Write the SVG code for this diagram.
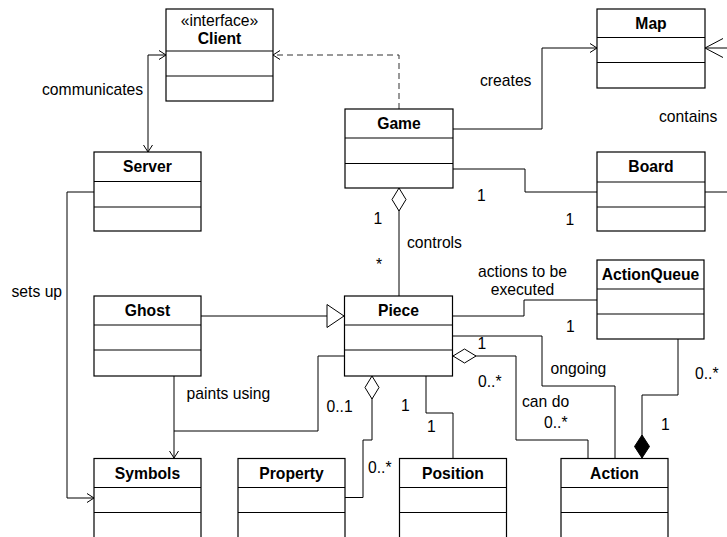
<svg xmlns="http://www.w3.org/2000/svg" width="727" height="537" viewBox="0 0 727 537">
<style>
.box{fill:#fff;stroke:#000;stroke-width:1.2}
.div{stroke:#000;stroke-width:1.2}
.name{font-family:"Liberation Sans",Arial,sans-serif;font-size:15.7px;font-weight:bold;text-anchor:middle;fill:#000}
.stereo{font-family:"Liberation Sans",Arial,sans-serif;font-size:15.7px;text-anchor:middle;fill:#000}
.lbl{font-family:"Liberation Sans",Arial,sans-serif;font-size:15.7px;fill:#000}
.ln{fill:none;stroke:#000;stroke-width:1}
.dash{fill:none;stroke:#333;stroke-width:1;stroke-dasharray:6,4}
</style>
<defs>
<marker id="open" markerUnits="userSpaceOnUse" markerWidth="20" markerHeight="20" viewBox="-10 -10 20 20" refX="0" refY="0" orient="auto">
<path d="M-7,-4.5 L0,0 L-7,4.5" fill="none" stroke="#000" stroke-width="1"/>
</marker>
<marker id="openStart" markerUnits="userSpaceOnUse" markerWidth="20" markerHeight="20" viewBox="-10 -10 20 20" refX="0" refY="0" orient="auto">
<path d="M7,-4.5 L0,0 L7,4.5" fill="none" stroke="#000" stroke-width="1"/>
</marker>
<marker id="bigopen" markerUnits="userSpaceOnUse" markerWidth="44" markerHeight="44" viewBox="-22 -22 44 44" refX="0" refY="0" orient="auto">
<path d="M-18,-9.5 L0,0 L-18,9.5" fill="none" stroke="#000" stroke-width="1"/>
</marker>
<marker id="tri" markerUnits="userSpaceOnUse" markerWidth="40" markerHeight="40" viewBox="-20 -20 40 40" refX="0" refY="0" orient="auto">
<path d="M0,0 L-17,-11.5 L-17,11.5 Z" fill="#fff" stroke="#000" stroke-width="1"/>
</marker>
<marker id="agg" markerUnits="userSpaceOnUse" markerWidth="50" markerHeight="50" viewBox="-25 -25 50 50" refX="0" refY="0" orient="auto">
<path d="M0,0 L11.5,-7 L23,0 L11.5,7 Z" fill="#fff" stroke="#000" stroke-width="1"/>
</marker>
<marker id="comp" markerUnits="userSpaceOnUse" markerWidth="50" markerHeight="50" viewBox="-25 -25 50 50" refX="0" refY="0" orient="auto">
<path d="M0,0 L11.5,-7.5 L23,0 L11.5,7.5 Z" fill="#000" stroke="#000" stroke-width="1"/>
</marker>
</defs>

<g id="connectors">
<polyline class="ln" points="148,152 148,55 166,55" marker-start="url(#openStart)" marker-end="url(#open)"/>
<polyline class="dash" points="399,109 399,55 273,55" marker-end="url(#open)"/>
<polyline class="ln" points="453,129 542,129 542,48 597,48" marker-end="url(#open)"/>
<polyline class="ln" points="727,48 705,48" marker-end="url(#bigopen)"/>
<polyline class="ln" points="453,169 525,169 525,192 597,192"/>
<polyline class="ln" points="705,192 727,192"/>
<polyline class="ln" points="399,188 399,296" marker-start="url(#agg)"/>
<polyline class="ln" points="201,316 344,316" marker-end="url(#tri)"/>
<polyline class="ln" points="174,376 174,458" marker-end="url(#open)"/>
<polyline class="ln" points="344,356 318,356 318,431 174,431"/>
<polyline class="ln" points="94,192 67,192 67,498 94,498" marker-end="url(#open)"/>
<polyline class="ln" points="453,316 524,316 524,300 597,300"/>
<polyline class="ln" points="453,336 542,336 542,386 615,386 615,458"/>
<polyline class="ln" points="453,356 516,356 516,440 588,440 588,458" marker-start="url(#agg)"/>
<polyline class="ln" points="372,376 372,440 363,440 363,497.5 345,497.5" marker-start="url(#agg)"/>
<polyline class="ln" points="426,376 426,413 453,413 453,458"/>
<polyline class="ln" points="642,458 642,395 678,395 678,339" marker-start="url(#comp)"/>
</g>

<g id="labels">
<text class="lbl" x="42" y="95">communicates</text>
<text class="lbl" x="480" y="85.5">creates</text>
<text class="lbl" x="659" y="121.5">contains</text>
<text class="lbl" x="477" y="201">1</text>
<text class="lbl" x="565.5" y="225">1</text>
<text class="lbl" x="373.5" y="224">1</text>
<text class="lbl" x="407" y="248">controls</text>
<text class="lbl" x="376" y="269.5">*</text>
<text class="lbl" x="11.5" y="297">sets up</text>
<text class="lbl" x="186.5" y="399">paints using</text>
<text class="lbl" x="326.5" y="412">0..1</text>
<text class="lbl" x="522.5" y="276.5" text-anchor="middle">actions to be</text>
<text class="lbl" x="522.5" y="295" text-anchor="middle">executed</text>
<text class="lbl" x="566" y="331.5">1</text>
<text class="lbl" x="477.5" y="349">1</text>
<text class="lbl" x="550.5" y="374">ongoing</text>
<text class="lbl" x="478" y="386.5">0..*</text>
<text class="lbl" x="522" y="406.5">can do</text>
<text class="lbl" x="544" y="427.5">0..*</text>
<text class="lbl" x="401" y="411">1</text>
<text class="lbl" x="427" y="431.5">1</text>
<text class="lbl" x="368" y="473">0..*</text>
<text class="lbl" x="661" y="430">1</text>
<text class="lbl" x="695" y="379">0..*</text>
</g>

<g id="Client">
<rect class="box" x="166" y="9" width="107" height="92"/>
<line class="div" x1="166" y1="51" x2="273" y2="51"/>
<line class="div" x1="166" y1="76" x2="273" y2="76"/>
<text class="stereo" x="219.5" y="26">«interface»</text>
<text class="name" x="219.5" y="44.3">Client</text>
</g>
<g id="Server">
<rect class="box" x="94" y="152" width="107" height="79"/>
<line class="div" x1="94" y1="181.5" x2="201" y2="181.5"/>
<line class="div" x1="94" y1="207" x2="201" y2="207"/>
<text class="name" x="147.5" y="172.3">Server</text>
</g>
<g id="Game">
<rect class="box" x="345" y="109" width="108" height="79"/>
<line class="div" x1="345" y1="138" x2="453" y2="138"/>
<line class="div" x1="345" y1="163.5" x2="453" y2="163.5"/>
<text class="name" x="399" y="129">Game</text>
</g>
<g id="Map">
<rect class="box" x="597" y="9" width="108" height="79"/>
<line class="div" x1="597" y1="37.5" x2="705" y2="37.5"/>
<line class="div" x1="597" y1="62.5" x2="705" y2="62.5"/>
<text class="name" x="651" y="29">Map</text>
</g>
<g id="Board">
<rect class="box" x="597" y="152" width="108" height="79"/>
<line class="div" x1="597" y1="182" x2="705" y2="182"/>
<line class="div" x1="597" y1="207" x2="705" y2="207"/>
<text class="name" x="651" y="172.3">Board</text>
</g>
<g id="Ghost">
<rect class="box" x="94" y="296" width="107" height="80"/>
<line class="div" x1="94" y1="325" x2="201" y2="325"/>
<line class="div" x1="94" y1="350" x2="201" y2="350"/>
<text class="name" x="147.5" y="316">Ghost</text>
</g>
<g id="Piece">
<rect class="box" x="344.5" y="296" width="108" height="80"/>
<line class="div" x1="344.5" y1="325" x2="452.5" y2="325"/>
<line class="div" x1="344.5" y1="350" x2="452.5" y2="350"/>
<text class="name" x="398.5" y="316">Piece</text>
</g>
<g id="ActionQueue">
<rect class="box" x="597" y="260" width="107" height="79"/>
<line class="div" x1="597" y1="289" x2="704" y2="289"/>
<line class="div" x1="597" y1="314" x2="704" y2="314"/>
<text class="name" x="650.5" y="280">ActionQueue</text>
</g>
<g id="Symbols">
<rect class="box" x="94" y="458.5" width="107" height="80"/>
<line class="div" x1="94" y1="487.5" x2="201" y2="487.5"/>
<line class="div" x1="94" y1="512.5" x2="201" y2="512.5"/>
<text class="name" x="147.5" y="478.5">Symbols</text>
</g>
<g id="Property">
<rect class="box" x="238" y="458.5" width="107" height="80"/>
<line class="div" x1="238" y1="487.5" x2="345" y2="487.5"/>
<line class="div" x1="238" y1="512.5" x2="345" y2="512.5"/>
<text class="name" x="291.5" y="478.5">Property</text>
</g>
<g id="Position">
<rect class="box" x="399.5" y="458.5" width="107" height="80"/>
<line class="div" x1="399.5" y1="487.5" x2="506.5" y2="487.5"/>
<line class="div" x1="399.5" y1="512.5" x2="506.5" y2="512.5"/>
<text class="name" x="453" y="478.5">Position</text>
</g>
<g id="Action">
<rect class="box" x="561" y="458.5" width="107" height="80"/>
<line class="div" x1="561" y1="487.5" x2="668" y2="487.5"/>
<line class="div" x1="561" y1="512.5" x2="668" y2="512.5"/>
<text class="name" x="614.5" y="478.5">Action</text>
</g>
</svg>
